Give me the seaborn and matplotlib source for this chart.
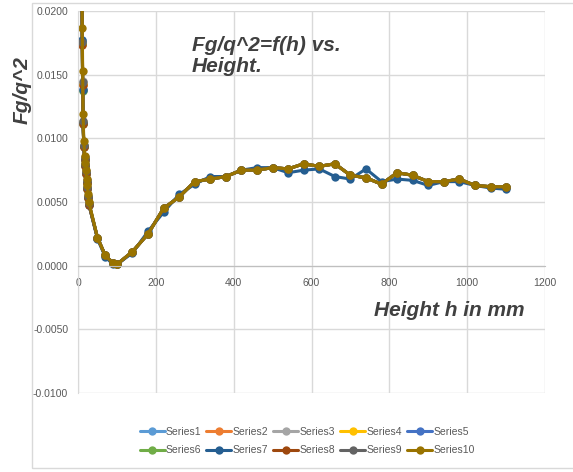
import matplotlib
matplotlib.use("Agg")
import matplotlib.pyplot as plt
from matplotlib.patches import Rectangle
import seaborn as sns
import pandas as pd

# Heights (mm) at which Fg/q^2 was evaluated
height_mm = [10, 11, 12, 13, 15, 17, 19, 20, 22, 24, 26, 28,
             50, 70, 90, 100, 140, 180, 220, 260, 300, 340, 380, 420,
             460, 500, 540, 580, 620, 660, 700, 740, 780, 820, 860, 900,
             940, 980, 1020, 1060, 1100]

# Near-field values (first 12 heights), one list per series
near_s1 = [0.0228, 0.0177, 0.0138, 0.0112, 0.0094, 0.0084, 0.0079, 0.0073, 0.0066, 0.0061, 0.0054, 0.0049]
near_s2 = [0.0222, 0.0173, 0.0142, 0.0111, 0.0093, 0.0083, 0.0078, 0.0072, 0.0065, 0.0060, 0.0053, 0.0048]
near_s3 = [0.0226, 0.0176, 0.0145, 0.0114, 0.0095, 0.0085, 0.0080, 0.0074, 0.0067, 0.0062, 0.0055, 0.0049]
near_s4 = [0.0225, 0.0175, 0.0143, 0.0113, 0.0094, 0.0084, 0.0079, 0.0073, 0.0066, 0.0061, 0.0054, 0.0049]
near_s5 = [0.0227, 0.0176, 0.0139, 0.0112, 0.0093, 0.0083, 0.0078, 0.0072, 0.0065, 0.0060, 0.0053, 0.0048]
near_s6 = [0.0224, 0.0174, 0.0137, 0.0111, 0.0093, 0.0083, 0.0078, 0.0072, 0.0065, 0.0060, 0.0053, 0.0048]
near_s7 = [0.0228, 0.0177, 0.0138, 0.0112, 0.0094, 0.0084, 0.0079, 0.0073, 0.0066, 0.0061, 0.0054, 0.0048]
near_s8 = [0.0223, 0.0173, 0.0142, 0.0111, 0.0093, 0.0083, 0.0078, 0.0072, 0.0065, 0.0060, 0.0053, 0.0048]
near_s9 = [0.0226, 0.0176, 0.0144, 0.0114, 0.0095, 0.0085, 0.0080, 0.0074, 0.0067, 0.0062, 0.0055, 0.0049]
near_s10 = [0.0240, 0.0187, 0.0153, 0.0119, 0.0098, 0.0086, 0.0081, 0.0075, 0.0068, 0.0063, 0.0056, 0.0050]

# Far-field values (heights 50 .. 1100)
far_main = [0.0022, 0.0008, 0.0002, 0.0001, 0.0011, 0.0025, 0.0045, 0.0054, 0.0066,
            0.0068, 0.0070, 0.0075, 0.0075, 0.0077, 0.0076, 0.0080, 0.0078, 0.0080,
            0.0071, 0.0069, 0.0064, 0.0073, 0.0071, 0.0066, 0.0066, 0.0068, 0.0063,
            0.0062, 0.0062]
far_s7 = [0.0021, 0.0007, 0.0001, 0.0001, 0.0010, 0.0027, 0.0042, 0.0056, 0.0064,
          0.0070, 0.0070, 0.0075, 0.0077, 0.0077, 0.0073, 0.0075, 0.0076, 0.0070,
          0.0068, 0.0076, 0.0066, 0.0068, 0.0067, 0.0063, 0.0066, 0.0066, 0.0063,
          0.0061, 0.0060]

series_names = [f"Series{i}" for i in range(1, 11)]
series_values = [
    near_s1 + far_main, near_s2 + far_main, near_s3 + far_main, near_s4 + far_main,
    near_s5 + far_main, near_s6 + far_main, near_s7 + far_s7, near_s8 + far_main,
    near_s9 + far_main, near_s10 + far_main,
]
colors = ["#5B9BD5", "#ED7D31", "#A5A5A5", "#FFC000", "#4472C4",
          "#70AD47", "#255E91", "#9E480E", "#636363", "#997300"]

rows = []
for name, vals in zip(series_names, series_values):
    for h, v in zip(height_mm, vals):
        rows.append({"series": name, "h": h, "val": v})
df = pd.DataFrame(rows)

sns.set_style("white")
plt.rcParams["font.family"] = ["Liberation Sans", "DejaVu Sans"]

fig = plt.figure(figsize=(5.73, 4.72), dpi=100)
ax = fig.add_axes([78 / 573, 1 - 393 / 472, (545 - 78) / 573, (393 - 11) / 472])

for name, col in zip(series_names, colors):
    sns.lineplot(data=df[df["series"] == name], x="h", y="val", ax=ax,
                 color=col, marker="o", markersize=6, markeredgewidth=0,
                 linewidth=2.2, label=name, estimator=None, sort=False)

yticks = [-0.01, -0.005, 0.0, 0.005, 0.01, 0.015, 0.02]
ax.set_xlim(0, 1200)
ax.set_ylim(-0.0100, 0.0200)
ax.set_xticks(range(0, 1201, 200))
ax.set_yticks(yticks)
ax.set_yticklabels([f"{t:.4f}" for t in yticks])
ax.grid(True, color="#D9D9D9", linewidth=1)
ax.set_axisbelow(True)
for s in ["top", "right"]:
    ax.spines[s].set_visible(False)
ax.spines["bottom"].set_position(("data", 0))
ax.spines["bottom"].set_color("#BFBFBF")
ax.spines["left"].set_color("#D9D9D9")
ax.tick_params(axis="both", length=0, labelsize=7.5, colors="#595959")
ax.tick_params(axis="y", pad=7)
ax.tick_params(axis="x", pad=9)
ax.set_xlabel("")
ax.set_ylabel("")

# Axis titles and chart title
fig.text(22 / 573, 1 - 90 / 472, "Fg/q^2", rotation=90, ha="center", va="center",
         fontsize=15, fontweight="bold", fontstyle="italic", color="#404040")
fig.text(525 / 573, 1 - 310 / 472, "Height h in mm", ha="right", va="center",
         fontsize=15, fontweight="bold", fontstyle="italic", color="#404040")
fig.text(192 / 573, 1 - 36 / 472, "Fg/q^2=f(h) vs.\nHeight.", ha="left", va="top",
         fontsize=15, fontweight="bold", fontstyle="italic", color="#404040",
         linespacing=1.1)

# Legend ordered row-wise in two rows of five
handles, labels = ax.get_legend_handles_labels()
order = [0, 5, 1, 6, 2, 7, 3, 8, 4, 9]
ax.legend([handles[i] for i in order], [labels[i] for i in order],
          ncol=5, loc="center", bbox_to_anchor=(307 / 573, 1 - 441 / 472),
          bbox_transform=fig.transFigure, frameon=False, fontsize=7.5,
          handlelength=2.4, handletextpad=0.1, columnspacing=0.5,
          labelcolor="#595959", labelspacing=0.8, borderaxespad=0)

# Chart-area border
fig.patches.append(Rectangle((32 / 573, 1 - 468 / 472), 1.0, (468 - 3) / 472,
                             transform=fig.transFigure, fill=False,
                             edgecolor="#D9D9D9", linewidth=1, zorder=0))

fig.savefig("out.png", dpi=100)
